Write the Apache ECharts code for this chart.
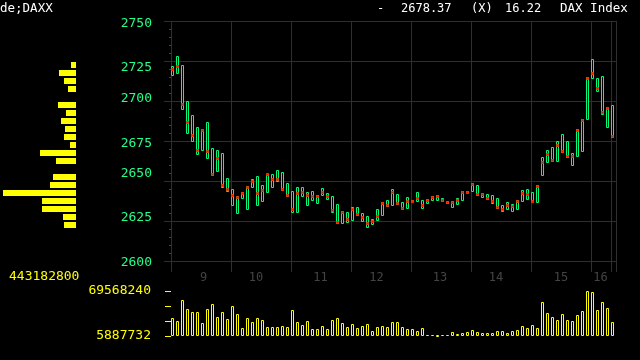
<!DOCTYPE html>
<html><head><meta charset="utf-8">
<script src="https://cdn.jsdelivr.net/npm/echarts@6/dist/echarts.min.js"></script>
<style>html,body{margin:0;padding:0;background:#000;}#c{width:640px;height:360px;}</style>
</head><body><div id="c"></div>
<script>
// ---- data ----
const HIGH = [2722.1,2728.4,2722.7,2700.0,2691.2,2683.5,2682.3,2686.7,2670.9,2669.6,
2667.7,2651.9,2645.0,2640.8,2643.3,2646.9,2651.3,2653.2,2647.5,2654.5,
2654.4,2656.8,2655.5,2648.8,2643.9,2646.3,2646.3,2643.3,2643.9,2641.5,
2645.7,2642.7,2640.9,2635.4,2631.1,2630.5,2633.5,2633.5,2629.9,2628.0,
2626.2,2632.3,2636.6,2638.4,2645.1,2642.1,2636.6,2640.2,2638.4,2643.3,
2638.4,2639.0,2640.9,2641.5,2639.6,2637.8,2637.2,2639.6,2643.9,2643.6,
2648.8,2647.6,2642.7,2642.1,2641.5,2639.6,2634.8,2636.6,2635.4,2638.4,
2644.5,2645.1,2643.3,2647.6,2665.0,2669.6,2671.5,2675.3,2679.1,2675.3,
2667.7,2682.3,2688.6,2715.1,2726.5,2714.5,2715.7,2696.2,2697.4];
const LOW = [2716.4,2717.6,2694.7,2680.2,2675.0,2667.1,2669.4,2664.6,2653.8,2656.4,
2646.3,2643.7,2635.3,2630.3,2639.3,2632.2,2646.0,2635.3,2637.8,2642.9,
2646.1,2650.0,2644.5,2640.9,2630.9,2630.9,2640.9,2634.8,2638.4,2636.4,
2641.5,2639.0,2630.9,2623.6,2623.6,2624.2,2625.4,2628.7,2624.8,2621.1,
2623.2,2625.4,2628.5,2634.1,2634.8,2635.4,2632.3,2632.9,2637.2,2637.2,
2632.9,2636.0,2638.4,2638.4,2637.2,2636.0,2633.5,2635.4,2638.4,2643.0,
2643.9,2641.5,2640.2,2639.0,2636.4,2632.9,2631.1,2632.3,2631.1,2632.3,
2637.2,2639.0,2637.2,2636.6,2653.8,2662.0,2662.7,2662.7,2668.4,2665.2,
2660.2,2665.8,2669.0,2688.6,2714.5,2706.3,2691.7,2683.5,2677.8];
const CLOSE = [2720.2,2722.0,2698.0,2687.0,2678.5,2669.6,2681.6,2669.0,2654.5,2664.6,
2647.5,2645.0,2641.2,2639.9,2642.5,2646.3,2650.0,2642.5,2644.4,2654.5,
2651.3,2651.2,2645.1,2641.5,2632.3,2642.7,2643.3,2641.5,2640.9,2640.9,
2643.3,2640.9,2631.7,2624.4,2630.5,2626.2,2632.3,2629.3,2627.4,2623.8,
2625.0,2628.0,2636.0,2634.8,2643.3,2636.0,2632.9,2637.8,2637.8,2639.6,
2634.8,2638.4,2640.2,2640.9,2638.4,2636.6,2636.6,2638.4,2643.3,2643.3,
2648.2,2642.1,2642.1,2639.6,2637.2,2633.5,2632.3,2634.8,2634.1,2637.8,
2642.7,2642.1,2637.8,2647.0,2661.8,2667.1,2663.3,2672.8,2669.0,2665.8,
2665.8,2681.6,2688.0,2714.5,2717.6,2708.2,2693.0,2695.5,2678.37];
const VOLUME = [31360000,27110000,56830000,44100000,39850000,39850000,24290000,44100000,51170000,32780000,
39850000,29950000,48340000,37020000,17210000,31360000,25700000,31360000,28530000,18620000,
18620000,18620000,20040000,18620000,42680000,25700000,21450000,27110000,15790000,15790000,
20040000,15790000,28530000,31360000,24290000,18620000,22870000,17210000,20040000,22870000,
12960000,18620000,20040000,18620000,25700000,25700000,18620000,15790000,15790000,12960000,
17210000,7300000,7300000,5887732,7300000,7300000,11550000,8720000,10130000,11550000,
14380000,11550000,10130000,10130000,10130000,12960000,12960000,10130000,12960000,14380000,
20040000,17210000,21450000,17210000,54000000,38440000,32780000,28530000,37020000,28530000,
27110000,35600000,41270000,69568240,68150000,42680000,54000000,45510000,25700000];
const VOL_MIN = 5887732;
const VOL_MAX = 69568240;
const PRICE_MIN = 2600, PRICE_MAX = 2750, PRICE_STEP = 25;
// volume-by-price profile (bins of 5 points, lower bound of bin)
const PROFILE_BIN = [2620,2625,2630,2635,2640,2645,2650,2655,2660,2665,2670,2675,2680,2685,2690,2695,2700,2705,2710,2715,2720];
const PROFILE_VOL = [72850000,78900000,206400000,206400000,443182800,157800000,139600000,0,121400000,218600000,36400000,72850000,66800000,91100000,60700000,109300000,0,48570000,72850000,103200000,30350000];
const PROFILE_MAX = 443182800;
const DAY_LABELS = ['9','10','11','12','13','14','15','16'];
const DAY_LABEL_POS = [6, 16.5, 29.4, 40.6, 53.3, 64.5, 77.5, 85.4];
const HEADER_LEFT = 'de;DAXX';
const HEADER_ITEMS = ['-', '2678.37', '(X)', '16.22', 'DAX Index'];

// ---- build ----
const N = CLOSE.length;
const BAND = 5;
const cats = [];
for (let i = 0; i < N; i++) cats.push('');
const xRich = {};
DAY_LABEL_POS.forEach((p, j) => {
  const idx = Math.round(p);
  const off = (p - idx) * BAND;
  cats[idx] = '{d' + j + '|' + DAY_LABELS[j] + '}';
  xRich['d' + j] = {
    color: '#444444', fontSize: 12, fontFamily: 'DejaVu Sans Mono',
    padding: off >= 0 ? [0, 0, 0, 2 * off] : [0, -2 * off, 0, 0]
  };
});
const candleData = CLOSE.map((c, i) => [i, HIGH[i], LOW[i], c]);
const volData = VOLUME.map((v, i) => [i, v - VOL_MIN]);

const binCats = [];
const binVals = [];
for (let p = PRICE_MIN; p < PRICE_MAX; p += 5) {
  binCats.push(String(p));
  const j = PROFILE_BIN.indexOf(p);
  binVals.push(j >= 0 ? PROFILE_VOL[j] : 0);
}

const yShift = {2750: 3, 2725: 7, 2700: -2, 2675: 3, 2650: -7, 2625: -3, 2600: 2};
const yRich = {};
Object.keys(yShift).forEach(k => {
  const d = yShift[k];
  yRich['p' + k] = {
    color: '#22ff88', fontSize: 13, fontFamily: 'DejaVu Sans Mono',
    padding: d >= 0 ? [2 * d, 0, 0, 0] : [0, 0, -2 * d, 0]
  };
});

const GREEN = '#00ff77';
const RED = '#ff3300';
const YELLOW = '#ffff00';
const GRID = '#2e2e2e';

function renderCandle(params, api) {
  const k = api.value(0);
  const pH = api.coord([k, api.value(1)]);
  const pL = api.coord([k, api.value(2)]);
  const pC = api.coord([k, api.value(3)]);
  const x0 = Math.floor(pH[0]) - 2 + 0.5;
  const yT = Math.round(pH[1]) + 0.5;
  const yB = Math.round(pL[1]) + 0.5;
  const yc = Math.round(pC[1]);
  return {
    type: 'group',
    children: [
      { type: 'rect', shape: { x: x0, y: yT, width: 2, height: Math.max(0, yB - yT) },
        style: { fill: '#000000', stroke: GREEN, lineWidth: 1 } },
      { type: 'rect', shape: { x: x0, y: yc - 0.5, width: 2, height: 2 },
        style: { fill: '#8a3a10', stroke: RED, lineWidth: 1 } }
    ]
  };
}
function renderVol(params, api) {
  const k = api.value(0);
  const pT = api.coord([k, api.value(1)]);
  const pB = api.coord([k, 0]);
  const x0 = Math.floor(pT[0]) - 2 + 0.5;
  const yT = Math.round(pT[1]) + 0.5;
  const yB = Math.round(pB[1]) - 0.5;
  return { type: 'rect', shape: { x: x0, y: Math.min(yT, yB), width: 2, height: Math.abs(yB - yT) },
    style: { fill: '#000000', stroke: YELLOW, lineWidth: 1 } };
}

const volRange = VOL_MAX - VOL_MIN;
const mono = 'DejaVu Sans Mono';

const chart = echarts.init(document.getElementById('c'), null, { renderer: 'canvas' });
chart.setOption({
  backgroundColor: '#000',
  animation: false,
  grid: [
    { left: 171, top: 21, width: 445, height: 240 },
    { left: 171, top: 291, width: 445, height: 45 },
    { left: 3, top: 21, width: 73, height: 240 }
  ],
  xAxis: [
    { type: 'category', gridIndex: 0, data: cats, boundaryGap: true,
      axisLine: { show: false },
      axisTick: { show: true, interval: 11, length: 11, lineStyle: { color: GRID } },
      splitLine: { show: true, interval: 11, lineStyle: { color: GRID } },
      axisLabel: { interval: 0, margin: 11, rich: xRich, color: '#444444', fontSize: 12, fontFamily: mono } },
    { type: 'category', gridIndex: 1, data: cats, boundaryGap: true, show: false },
    { type: 'value', gridIndex: 2, inverse: true, min: 0, max: PROFILE_MAX, show: false }
  ],
  yAxis: [
    { type: 'value', gridIndex: 0, min: PRICE_MIN, max: PRICE_MAX, interval: PRICE_STEP,
      axisLine: { show: false },
      axisTick: { show: true, length: 7, lineStyle: { color: GRID } },
      minorTick: { show: true, splitNumber: 5, length: 2, lineStyle: { color: '#444' } },
      splitLine: { show: true, lineStyle: { color: GRID } },
      axisLabel: { margin: 19, formatter: v => '{p' + v + '|' + v + '}', rich: yRich,
        color: '#22ff88', fontSize: 13, fontFamily: mono } },
    { type: 'value', gridIndex: 1, min: 0, max: volRange, interval: volRange / 3,
      axisLine: { show: false },
      axisTick: { show: true, length: 6, lineStyle: { color: YELLOW } },
      splitLine: { show: false },
      axisLabel: { margin: 20, color: YELLOW, fontSize: 13, fontFamily: mono, padding: [2, 0, 0, 0],
        formatter: (v, i) => (i === 0 || Math.abs(v - volRange) < 1) ? String(Math.round(v + VOL_MIN)) : '' } },
    { type: 'category', gridIndex: 2, data: binCats, show: false }
  ],
  series: [
    { type: 'custom', xAxisIndex: 0, yAxisIndex: 0, data: candleData, renderItem: renderCandle,
      encode: { x: 0, y: [1, 2, 3] }, silent: true, clip: false },
    { type: 'custom', xAxisIndex: 1, yAxisIndex: 1, data: volData, renderItem: renderVol,
      encode: { x: 0, y: 1 }, silent: true },
    { type: 'bar', xAxisIndex: 2, yAxisIndex: 2, data: binVals, barWidth: 6,
      itemStyle: { color: YELLOW }, silent: true }
  ],
  graphic: [
    { type: 'text', x: 0, y: 9, style: { text: HEADER_LEFT, fill: '#ffffff', font: '12.5px "DejaVu Sans Mono"', align: 'left', verticalAlign: 'middle' } },
    { type: 'text', x: 377, y: 9, style: { text: HEADER_ITEMS[0], fill: '#ffffff', font: '12px "DejaVu Sans Mono"', align: 'left', verticalAlign: 'middle' } },
    { type: 'text', x: 401, y: 9, style: { text: HEADER_ITEMS[1], fill: '#ffffff', font: '12px "DejaVu Sans Mono"', align: 'left', verticalAlign: 'middle' } },
    { type: 'text', x: 471, y: 9, style: { text: HEADER_ITEMS[2], fill: '#ffffff', font: '12px "DejaVu Sans Mono"', align: 'left', verticalAlign: 'middle' } },
    { type: 'text', x: 505, y: 9, style: { text: HEADER_ITEMS[3], fill: '#ffffff', font: '12px "DejaVu Sans Mono"', align: 'left', verticalAlign: 'middle' } },
    { type: 'text', x: 560, y: 9, style: { text: HEADER_ITEMS[4], fill: '#ffffff', font: '12.5px "DejaVu Sans Mono"', align: 'left', verticalAlign: 'middle' } },
    { type: 'text', x: 9, y: 277, style: { text: String(PROFILE_MAX), fill: YELLOW, font: '13px "DejaVu Sans Mono"', align: 'left', verticalAlign: 'middle' } }
  ]
});
</script>
</body></html>
